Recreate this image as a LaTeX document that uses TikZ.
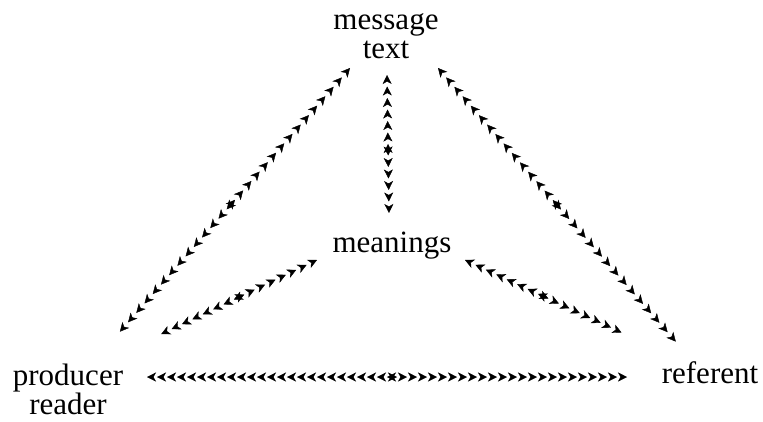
\documentclass[tikz,border=0pt]{standalone}
\usepackage{fontspec}
\setmainfont{Liberation Serif}
\usetikzlibrary{arrows.meta,decorations.markings,calc}
\tikzset{
  lbl/.style={inner sep=0pt, font=\fontsize{31}{29}\selectfont, align=center},
  tip/.tip={Stealth[length=9pt,width=9pt,inset=2.5pt]},
  dbl/.style={decorate, decoration={markings,
    mark=between positions 0 and 1 step #1 with {%
      \pgfmathparse{(\pgfkeysvalueof{/pgf/decoration/mark info/distance from start} < 0.5*\pgfdecoratedpathlength) ? 1 : 0}%
      \ifnum\pgfmathresult=1 \arrowreversed{tip}\else\arrow{tip}\fi}}},
  dbl/.default=11.5pt
}
\begin{document}
\begin{tikzpicture}[x=1pt,y=-1pt]
\useasboundingbox (0,0) rectangle (763,421);
\node[lbl] (msg) at (386,36) {message\\text};
\node[lbl, anchor=base] (mean) at (392,252) {meanings};
\node[lbl] (prod) at (68,389) {producer\\reader};
\node[lbl, anchor=base] (ref) at (710,383) {referent};
% message -- meanings
\path[dbl] ($(msg.center)+(1,39)$) -- ($(mean.base)+(-3,-39)$);
% message -- producer
\path[dbl=12.5pt] ($(msg.center)+(-36,32)$) -- ($(prod.center)+(49,-54)$);
% message -- referent
\path[dbl=12.5pt] ($(msg.center)+(52,32)$) -- ($(ref.base)+(-33,-40)$);
% meanings -- producer
\path[dbl] ($(mean.base)+(-75,8)$) -- ($(prod.center)+(87,-52)$);
% meanings -- referent
\path[dbl] ($(mean.base)+(73,8)$) -- ($(ref.base)+(-83,-48)$);
% producer -- referent
\path[dbl=10pt] ($(prod.center)+(79,-12)$) -- ($(ref.base)+(-78,-6)$);
\end{tikzpicture}
\end{document}
